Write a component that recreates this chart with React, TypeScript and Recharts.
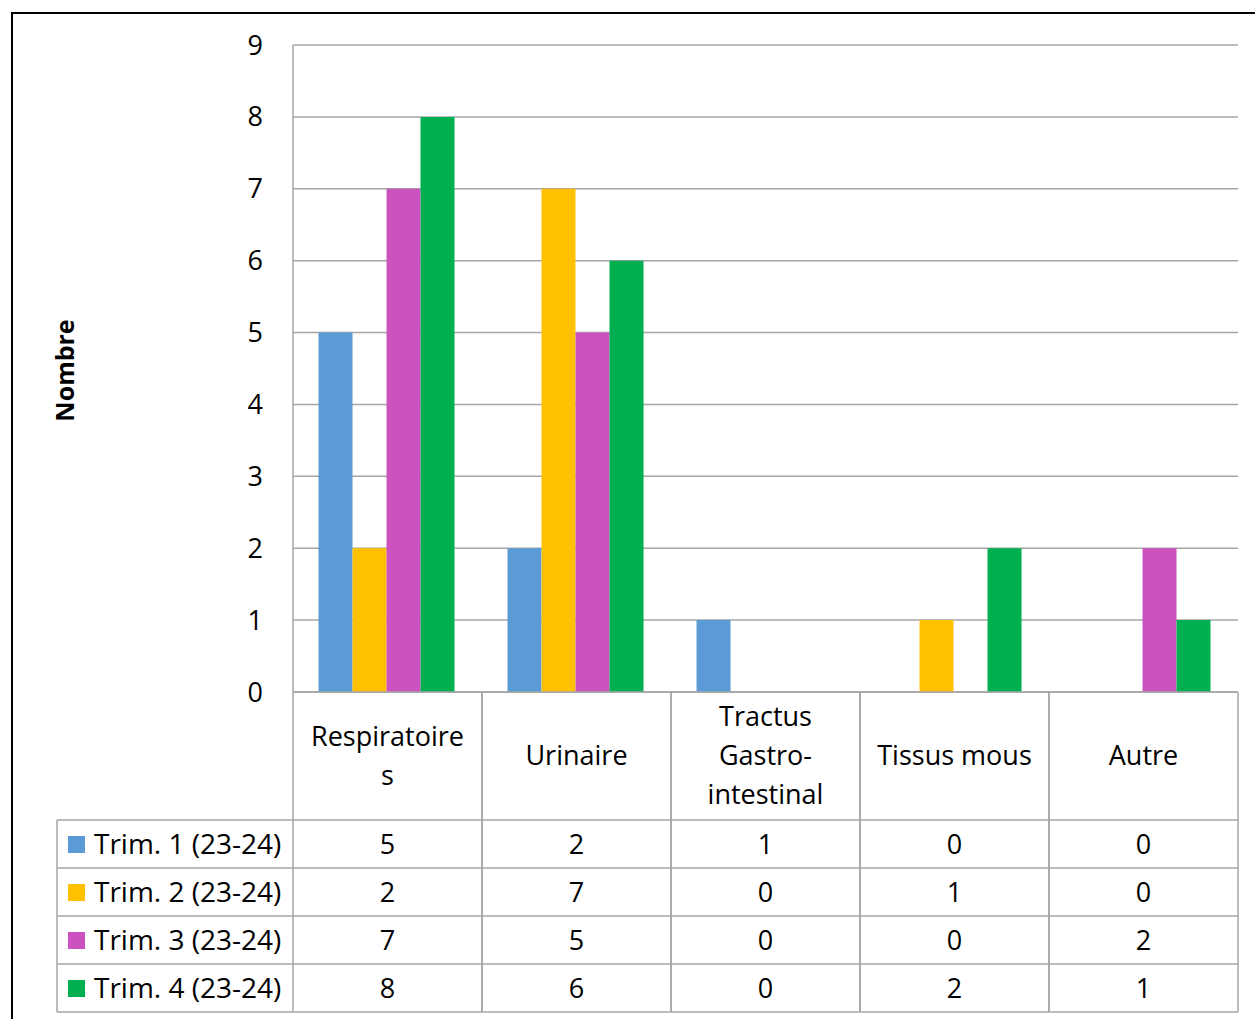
import { Bar, BarChart, CartesianGrid, XAxis, YAxis } from 'recharts';

const categories = ['Respiratoires', 'Urinaire', 'Tractus Gastro-intestinal', 'Tissus mous', 'Autre'];
// how Excel wrapped the category names in the table header
const categoryLines = [['Respiratoire', 's'], ['Urinaire'], ['Tractus', 'Gastro-', 'intestinal'], ['Tissus mous'], ['Autre']];

const trim1 = [5, 2, 1, 0, 0];
const trim2 = [2, 7, 0, 1, 0];
const trim3 = [7, 5, 0, 0, 2];
const trim4 = [8, 6, 0, 2, 1];

const seriesNames = ['Trim. 1 (23-24)', 'Trim. 2 (23-24)', 'Trim. 3 (23-24)', 'Trim. 4 (23-24)'];
const seriesKeys = ['t1', 't2', 't3', 't4'];
const seriesValues = [trim1, trim2, trim3, trim4];
const seriesColors = ['#5B9BD5', '#FFC000', '#CB52BF', '#00B050'];

const yTicks = [0, 1, 2, 3, 4, 5, 6, 7, 8, 9];

const FONT = '"Open Sans", "Noto Sans", sans-serif';
const GRID = '#a6a6a6';
const HEADER_H = 128;
const ROW_H = 48;
const LEGEND_W = 236;

const data = categories.map((name, i) => ({
  name,
  t1: trim1[i],
  t2: trim2[i],
  t3: trim3[i],
  t4: trim4[i],
}));

function TableColumn(props: any) {
  const { x, y, index, width, visibleTicksCount } = props;
  const band = width && visibleTicksCount ? width / visibleTicksCount : 189;
  const left = x - band / 2;
  const right = x + band / 2;
  const bottom = y + HEADER_H + ROW_H * seriesNames.length;
  const lines = categoryLines[index] || [String(props.payload?.value)];
  const lh = 39;
  const firstY = y + HEADER_H / 2 - ((lines.length - 1) * lh) / 2;

  return (
    <g>
      <line x1={left} y1={y} x2={left} y2={bottom} stroke={GRID} strokeWidth={1.5} />
      <line x1={right} y1={y} x2={right} y2={bottom} stroke={GRID} strokeWidth={1.5} />
      {lines.map((t, i) => (
        <text
          key={i}
          x={x}
          y={firstY + i * lh}
          dy="0.35em"
          textAnchor="middle"
          fontFamily={FONT}
          fontSize={27}
          fill="#000"
        >
          {t}
        </text>
      ))}
      {seriesValues.map((vals, k) => {
        const top = y + HEADER_H + ROW_H * k;
        return (
          <g key={k}>
            <line x1={left} y1={top} x2={right} y2={top} stroke={GRID} strokeWidth={1.5} />
            <text
              x={x}
              y={top + ROW_H / 2 + 0.5}
              dy="0.35em"
              textAnchor="middle"
              fontFamily={FONT}
              fontSize={27}
              fill="#000"
            >
              {vals[index]}
            </text>
          </g>
        );
      })}
      <line x1={left} y1={bottom} x2={right} y2={bottom} stroke={GRID} strokeWidth={1.5} />

      {index === 0 && (
        <g>
          <line x1={left - LEGEND_W} y1={y + HEADER_H} x2={left - LEGEND_W} y2={bottom} stroke={GRID} strokeWidth={1.5} />
          {seriesNames.map((name, k) => {
            const top = y + HEADER_H + ROW_H * k;
            return (
              <g key={name}>
                <line x1={left - LEGEND_W} y1={top} x2={left} y2={top} stroke={GRID} strokeWidth={1.5} />
                <rect x={left - LEGEND_W + 11} y={top + ROW_H / 2 - 8} width={17} height={17} fill={seriesColors[k]} />
                <text
                  x={left - LEGEND_W + 37}
                  y={top + ROW_H / 2 + 0.5}
                  dy="0.35em"
                  textAnchor="start"
                  fontFamily={FONT}
                  fontSize={28}
                  fill="#000"
                >
                  {name}
                </text>
              </g>
            );
          })}
          <line x1={left - LEGEND_W} y1={bottom} x2={left} y2={bottom} stroke={GRID} strokeWidth={1.5} />
        </g>
      )}
    </g>
  );
}

function YTitle(props: any) {
  const vb = props.viewBox || { x: 0, y: 31, width: 280, height: 647 };
  const cx = vb.x + 52;
  const cy = vb.y + vb.height / 2 + 2;
  return (
    <text
      x={cx}
      y={cy}
      transform={`rotate(-90 ${cx} ${cy})`}
      textAnchor="middle"
      dy="0.35em"
      fontFamily={FONT}
      fontSize={25}
      fontWeight="bold"
      fill="#000"
    >
      Nombre
    </text>
  );
}

export default function App() {
  return (
    <div
      style={{
        position: 'fixed',
        left: 11,
        top: 12,
        width: 1244,
        height: 1007,
        overflow: 'hidden',
        borderLeft: '2px solid #000',
        borderTop: '2px solid #000',
        background: '#fff',
      }}
    >
      <BarChart
        width={1242}
        height={1005}
        data={data}
        margin={{ top: 31, right: 17, left: 0, bottom: 2 }}
        barCategoryGap="13.5%"
        barGap={0}
      >
        <CartesianGrid vertical={false} stroke={GRID} strokeWidth={1.5} />
        <XAxis
          dataKey="name"
          interval={0}
          height={325}
          tickLine={false}
          tickSize={0}
          tickMargin={0}
          axisLine={{ stroke: GRID, strokeWidth: 1.5 }}
          tick={(p: any) => <TableColumn {...p} />}
        />
        <YAxis
          width={280}
          domain={[0, 9]}
          ticks={yTicks}
          interval={0}
          tickLine={false}
          tickSize={0}
          tickMargin={30}
          axisLine={{ stroke: GRID, strokeWidth: 1.5 }}
          tick={{ fill: '#000', fontSize: 27, fontFamily: FONT }}
          label={(p: any) => <YTitle {...p} />}
        />
        {seriesKeys.map((k, i) => (
          <Bar key={k} dataKey={k} name={seriesNames[i]} fill={seriesColors[i]} isAnimationActive={false} />
        ))}
      </BarChart>
    </div>
  );
}
